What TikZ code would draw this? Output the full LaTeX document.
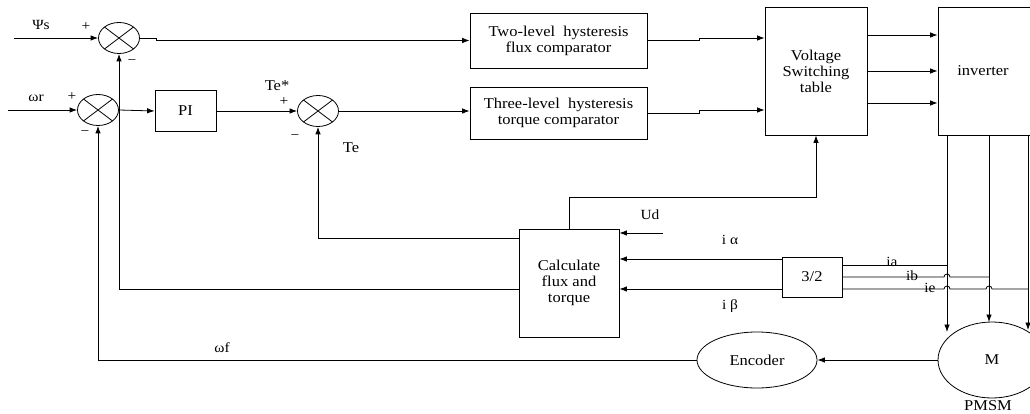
\documentclass[tikz,border=0pt]{standalone}
\usepackage{fontspec}
\setmainfont{Liberation Serif}[FakeStretch=1.1]
\usetikzlibrary{arrows.meta,shapes.geometric}
\tikzset{
  blk/.style={draw, rectangle, inner sep=0pt, align=center, font=\fontsize{15}{16}\selectfont},
  sumj/.style={draw, ellipse, minimum width=41pt, minimum height=31pt, inner sep=0pt,
    path picture={\draw (path picture bounding box.north west) -- (path picture bounding box.south east)
                        (path picture bounding box.south west) -- (path picture bounding box.north east);}},
  oval/.style={draw, ellipse, inner sep=0pt, font=\fontsize{15}{16}\selectfont},
  arr/.style={-{Latex[length=7.5pt,width=5.5pt]}},
  lbl/.style={inner sep=0pt, font=\fontsize{14}{15}\selectfont},
  biglbl/.style={inner sep=0pt, font=\fontsize{15}{16}\selectfont},
}
\begin{document}
\begin{tikzpicture}[x=1pt, y=-1pt, line width=0.8pt]
\useasboundingbox (0,0) rectangle (1030,414);

% summing junctions
\node[sumj] (S1) at (119,38) {};
\node[sumj] (S2) at (98,110) {};
\node[sumj] (S3) at (318,111) {};

% blocks
\node[blk, minimum width=61pt, minimum height=41pt] (PI) at (185.5,111) {PI};
\node[blk, minimum width=177pt, minimum height=55pt] (tw) at (558.5,40.5) {Two-level~ hysteresis\\flux comparator};
\node[blk, minimum width=177pt, minimum height=52pt] (tl) at (558.5,113) {Three-level~ hysteresis\\torque comparator};
\node[blk, minimum width=102pt, minimum height=128pt] (vst) at (816,71) {Voltage\\Switching\\table};
\node[blk, minimum width=107pt, minimum height=128pt,
      label={[biglbl, xshift=-8.5pt]center:inverter}] (inv) at (991.5,71) {};
\node[blk, minimum width=100pt, minimum height=108pt] (calc) at (569,283) {Calculate\\flux and\\torque};
\node[blk, minimum width=60pt, minimum height=40pt] (c32) at (812,277) {3/2};
\node[oval, minimum width=120pt, minimum height=56pt] (enc) at (757,360) {Encoder};
\node[oval, minimum width=108pt, minimum height=76pt] (mot) at (992,360) {M};

% free ends and tap points
\coordinate (psin) at (14,38);
\coordinate (wrin) at (8,110);
\coordinate (udin) at (663,233);
\coordinate (ta) at (947,135);
\coordinate (tb) at (989,135);
\coordinate (tc) at (1028,135);
\coordinate (ea) at (947,332);
\coordinate (eb) at (989,322);
\coordinate (ec) at (1028,330);

% forward path
\draw[arr] (psin) -- (S1.west);
\draw[arr] (S1.east) -- ++(16,0) |- (tw.west);
\draw[arr] (wrin) -- (S2.west);
\draw[arr] (S2.east) -- (PI.west);
\draw[arr] (PI.east) -- (S3.west);
\draw[arr] (S3.east) -- (tl.west |- S3.east);
\draw[arr] (tw.east) -- ++(52,0) -- ++(0,-2.5) -- (vst.west |- 0,38);
\draw[arr] (tl.east) -- ++(52,0) -- ++(0,-3) -- (vst.west |- 0,110);
\foreach \yy in {35,71,103} \draw[arr] (vst.east |- 0,\yy) -- (inv.west |- 0,\yy);

% inverter to motor
\draw[arr] (ta) -- (ea);
\draw[arr] (tb) -- (eb);
\draw[arr] (tc) -- (ec);

% current measurements
\draw (c32.east |- 0,265) -- (ta |- 0,265);
\draw (c32.east |- 0,277) -- (944,277) arc[start angle=180, end angle=0, radius=3pt] -- (tb |- 0,277);
\draw (c32.east |- 0,289) -- (944,289) arc[start angle=180, end angle=0, radius=3pt]
      -- (986,289) arc[start angle=180, end angle=0, radius=3pt] -- (tc |- 0,289);
\draw[arr] (c32.west |- 0,259) -- (calc.east |- 0,259);
\draw[arr] (c32.west |- 0,289) -- (calc.east |- 0,289);
\draw[arr] (udin) -- (calc.east |- udin);

% feedback
\draw[arr] (calc.north) -- ++(0,-31) -| (vst.south);
\draw[arr] (calc.west |- 0,238) -| (S3.south);
\draw[arr] (calc.west |- 0,289) -| (S1.south);
\draw[arr] (mot.west) -- (enc.east);
\draw[arr] (enc.west) -| (S2.south);

% labels
\node[lbl] (lpsi) at (41,25) {Ψs};
\node[lbl] (lp1) at (86,27) {+};
\node[lbl] (lm1) at (132,62) {−};
\node[lbl] (lwr) at (36,98) {ωr};
\node[lbl] (lp2) at (72,97) {+};
\node[lbl] (lm2) at (85,133) {−};
\node[biglbl] (lte1) at (277,86) {Te*};
\node[lbl] (lp3) at (284,102) {+};
\node[lbl] (lm3) at (295,137) {−};
\node[biglbl] (lte2) at (351,148) {Te};
\node[lbl] (lud) at (650,215) {Ud};
\node[lbl] (lia) at (730,240) {i α};
\node[lbl] (lib) at (730,306) {i β};
\node[lbl] (la) at (892,262) {ia};
\node[lbl] (lb) at (912,276) {ib};
\node[lbl] (lc) at (930,288) {ie};
\node[lbl] (lwf) at (222,348) {ωf};
\node[biglbl] (lpm) at (988,406) {PMSM};
\end{tikzpicture}
\end{document}
